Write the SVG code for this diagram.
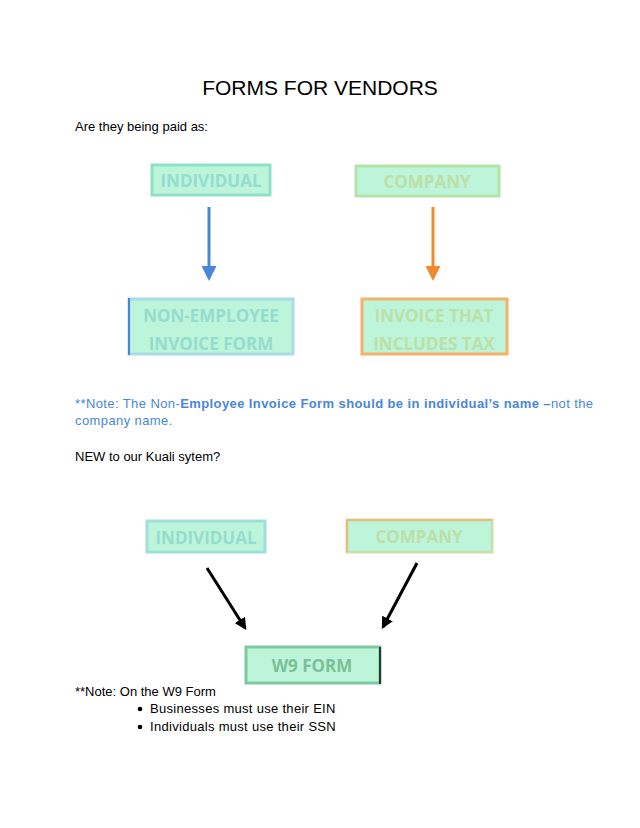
<svg xmlns="http://www.w3.org/2000/svg" width="640" height="828" viewBox="0 0 640 828">
<style>
.t{font-family:"Liberation Sans",Arial,sans-serif;font-size:13px;fill:#000}
.n{font-family:"Open Sans","Noto Sans",sans-serif;font-size:17px;font-weight:bold;text-anchor:middle}
.box{fill:#bdf5da;stroke-width:3}
.note{font-family:"Liberation Sans",Arial,sans-serif;font-size:13px;fill:#4a86d6;letter-spacing:0.4px}
</style>
<defs>
<marker id="ab" viewBox="0 0 10 10" refX="8" refY="5" markerWidth="5" markerHeight="5" orient="auto"><path d="M0,0L10,5L0,10z" fill="#4a86d6"/></marker>
<marker id="ao" viewBox="0 0 10 10" refX="8" refY="5" markerWidth="5" markerHeight="5" orient="auto"><path d="M0,0L10,5L0,10z" fill="#f08a2c"/></marker>
<marker id="ak" viewBox="0 0 10 10" refX="8" refY="5" markerWidth="4" markerHeight="4" orient="auto"><path d="M0,0L10,5L0,10z" fill="#000"/></marker>
</defs>
<rect width="640" height="828" fill="#fff"/>
<text x="320" y="95" text-anchor="middle" style="font-family:'Liberation Sans',Arial,sans-serif;font-size:21px">FORMS FOR VENDORS</text>
<text class="t" x="75" y="131">Are they being paid as:</text>
<g id="ind1"><rect class="box" x="152" y="165" width="118" height="30" stroke="#8fe0c8"/><text class="n" x="211" y="187" fill="#96dcd0">INDIVIDUAL</text></g>
<g id="comp1"><rect class="box" x="356" y="166" width="143" height="30" stroke="#b5e2a8"/><text class="n" x="427" y="188" fill="#bde0a8">COMPANY</text></g>
<g id="nonemp"><rect class="box" x="129" y="299" width="164" height="55" stroke="#a8dce8"/><line x1="129" y1="298" x2="129" y2="355" stroke="#4a86d6" stroke-width="2"/><text class="n" x="211" y="322" fill="#96dcd0">NON-EMPLOYEE</text><text class="n" x="211" y="350" fill="#96dcd0">INVOICE FORM</text></g>
<g id="invtax"><rect class="box" x="362" y="299" width="145" height="55" stroke="#f5b06a"/><text class="n" x="434" y="322" fill="#bde0a8">INVOICE THAT</text><text class="n" x="434" y="350" fill="#bde0a8">INCLUDES TAX</text></g>
<text class="note" x="75" y="408">**Note: The Non-<tspan font-weight="bold">Employee Invoice Form should be in individual’s name –</tspan>not the</text>
<text class="note" x="75" y="425">company name.</text>
<text class="t" x="75" y="461">NEW to our Kuali sytem?</text>
<g id="ind2"><rect class="box" x="147" y="521" width="118" height="31" stroke="#9ee0d8"/><text class="n" x="206" y="544" fill="#96dcd0">INDIVIDUAL</text></g>
<g id="comp2"><rect class="box" x="347" y="520" width="145" height="32" stroke="#c8e0b0"/><line x1="347" y1="520" x2="492" y2="520" stroke="#f5b06a" stroke-width="1.5"/><line x1="347" y1="520" x2="347" y2="552" stroke="#f5b06a" stroke-width="1.5"/><text class="n" x="419" y="543" fill="#bde0a8">COMPANY</text></g>
<g id="w9"><rect class="box" x="246" y="647" width="134" height="36" stroke="#7ec8a0"/><line x1="380" y1="647" x2="380" y2="684" stroke="#333" stroke-width="2"/><text class="n" x="312" y="672" fill="#7cbf98">W9 FORM</text></g>
<g id="connectors">
<line x1="209" y1="207" x2="209" y2="278" stroke="#4a86d6" stroke-width="3" marker-end="url(#ab)"/>
<line x1="433" y1="207" x2="433" y2="278" stroke="#f08a2c" stroke-width="3" marker-end="url(#ao)"/>
<line x1="207" y1="568" x2="245" y2="628" stroke="#000" stroke-width="3" marker-end="url(#ak)"/>
<line x1="417" y1="563" x2="383" y2="627" stroke="#000" stroke-width="3" marker-end="url(#ak)"/>
</g>
<text class="t" x="75" y="696">**Note: On the W9 Form</text>
<circle cx="140" cy="709" r="2.3"/><text class="t" x="150" y="713" letter-spacing="0.3">Businesses must use their EIN</text>
<circle cx="140" cy="727" r="2.3"/><text class="t" x="150" y="731" letter-spacing="0.3">Individuals must use their SSN</text>
</svg>
